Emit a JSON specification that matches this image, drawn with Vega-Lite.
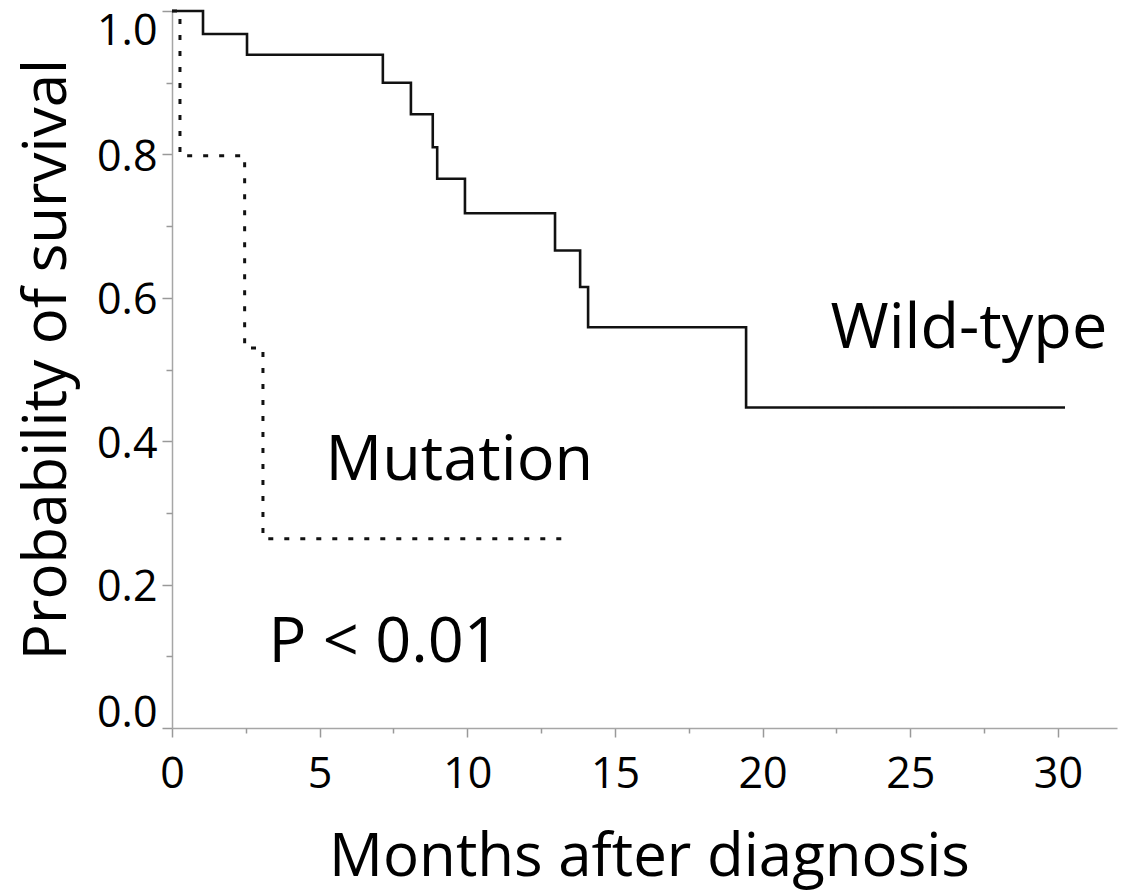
{
  "$schema": "https://vega.github.io/schema/vega-lite/v6.json",
  "width": 945,
  "height": 717,
  "autosize": {"type": "none"},
  "padding": {"left": 172, "top": 11, "right": 15, "bottom": 164},
  "background": "white",
  "config": {"view": {"stroke": null}, "font": "Open Sans"},
  "datasets": {
    "km": [
      {"group": "Wild-type", "month": 0, "survival": 1.0},
      {"group": "Wild-type", "month": 1.05, "survival": 0.968},
      {"group": "Wild-type", "month": 2.54, "survival": 0.939},
      {"group": "Wild-type", "month": 7.14, "survival": 0.9},
      {"group": "Wild-type", "month": 8.09, "survival": 0.856},
      {"group": "Wild-type", "month": 8.83, "survival": 0.81},
      {"group": "Wild-type", "month": 8.98, "survival": 0.766},
      {"group": "Wild-type", "month": 9.92, "survival": 0.718},
      {"group": "Wild-type", "month": 12.97, "survival": 0.666},
      {"group": "Wild-type", "month": 13.82, "survival": 0.615},
      {"group": "Wild-type", "month": 14.09, "survival": 0.559},
      {"group": "Wild-type", "month": 19.44, "survival": 0.447},
      {"group": "Wild-type", "month": 30.24, "survival": 0.447},
      {"group": "Mutation", "month": 0, "survival": 1.0},
      {"group": "Mutation", "month": 0.27, "survival": 0.798},
      {"group": "Mutation", "month": 2.46, "survival": 0.53},
      {"group": "Mutation", "month": 3.08, "survival": 0.264},
      {"group": "Mutation", "month": 13.2, "survival": 0.264}
    ],
    "labels": [
      {"label": "Wild-type", "month": 22.3, "survival": 0.53},
      {"label": "Mutation", "month": 5.2, "survival": 0.346},
      {"label": "P < 0.01", "month": 3.27, "survival": 0.0925}
    ]
  },
  "resolve": {"axis": {"x": "independent", "y": "independent"}},
  "layer": [
    {
      "data": {"name": "km"},
      "mark": {"type": "line", "interpolate": "step-after", "color": "#111111"},
      "encoding": {
        "x": {
          "field": "month",
          "type": "quantitative",
          "scale": {"domain": [0, 32], "nice": false, "zero": false},
          "axis": {
            "title": "Months after diagnosis",
            "orient": "bottom",
            "values": [0, 5, 10, 15, 20, 25, 30],
            "format": "d",
            "labelFontSize": 43,
            "labelColor": "#000000",
            "labelPadding": 16,
            "labelOverlap": false,
            "labelFlush": false,
            "tickSize": 9,
            "tickColor": "#999999",
            "tickWidth": 1.5,
            "domainColor": "#a6a6a6",
            "domainWidth": 1.5,
            "grid": false,
            "titleFontSize": 60,
            "titleFontWeight": "normal",
            "titleColor": "#000000",
            "titleX": 477,
            "titleY": 147,
            "titleBaseline": "alphabetic",
            "titleAlign": "center"
          }
        },
        "y": {
          "field": "survival",
          "type": "quantitative",
          "scale": {"domain": [0, 1], "nice": false},
          "axis": {
            "title": "Probability of survival",
            "orient": "left",
            "values": [0, 0.2, 0.4, 0.6, 0.8, 1],
            "format": ".1f",
            "labelFontSize": 43,
            "labelColor": "#000000",
            "labelPadding": 5,
            "labelOverlap": false,
            "labelFlush": true,
            "labelFlushOffset": 4,
            "labelOffset": 3,
            "tickSize": 10,
            "tickColor": "#999999",
            "tickWidth": 1.5,
            "domainColor": "#a6a6a6",
            "domainWidth": 1.5,
            "grid": false,
            "titleFontSize": 60,
            "titleFontWeight": "normal",
            "titleColor": "#000000",
            "titleAngle": -90,
            "titleX": -107,
            "titleY": 348,
            "titleBaseline": "alphabetic",
            "titleAlign": "center"
          }
        },
        "detail": {"field": "group"},
        "strokeDash": {
          "field": "group",
          "type": "nominal",
          "scale": {"domain": ["Wild-type", "Mutation"], "range": [[1, 0], [5, 11]]},
          "legend": null
        },
        "strokeWidth": {
          "field": "group",
          "type": "nominal",
          "scale": {"domain": ["Wild-type", "Mutation"], "range": [2.6, 3]},
          "legend": null
        }
      }
    },
    {
      "data": {"name": "labels"},
      "mark": {"type": "text", "align": "left", "baseline": "alphabetic", "fontSize": 63, "font": "Open Sans", "color": "#000000"},
      "encoding": {
        "x": {
          "field": "month",
          "type": "quantitative",
          "scale": {"domain": [0, 32], "nice": false, "zero": false},
          "axis": {
            "orient": "bottom",
            "title": null,
            "values": [2.5, 7.5, 12.5, 17.5, 22.5, 27.5],
            "labels": false,
            "domain": false,
            "grid": false,
            "tickSize": 5,
            "tickColor": "#999999",
            "tickWidth": 1.5
          }
        },
        "y": {
          "field": "survival",
          "type": "quantitative",
          "scale": {"domain": [0, 1], "nice": false},
          "axis": {
            "orient": "left",
            "title": null,
            "values": [0.1, 0.3, 0.5, 0.7, 0.9],
            "labels": false,
            "domain": false,
            "grid": false,
            "tickSize": 6,
            "tickColor": "#999999",
            "tickWidth": 1.5
          }
        },
        "text": {"field": "label"}
      }
    }
  ]
}
